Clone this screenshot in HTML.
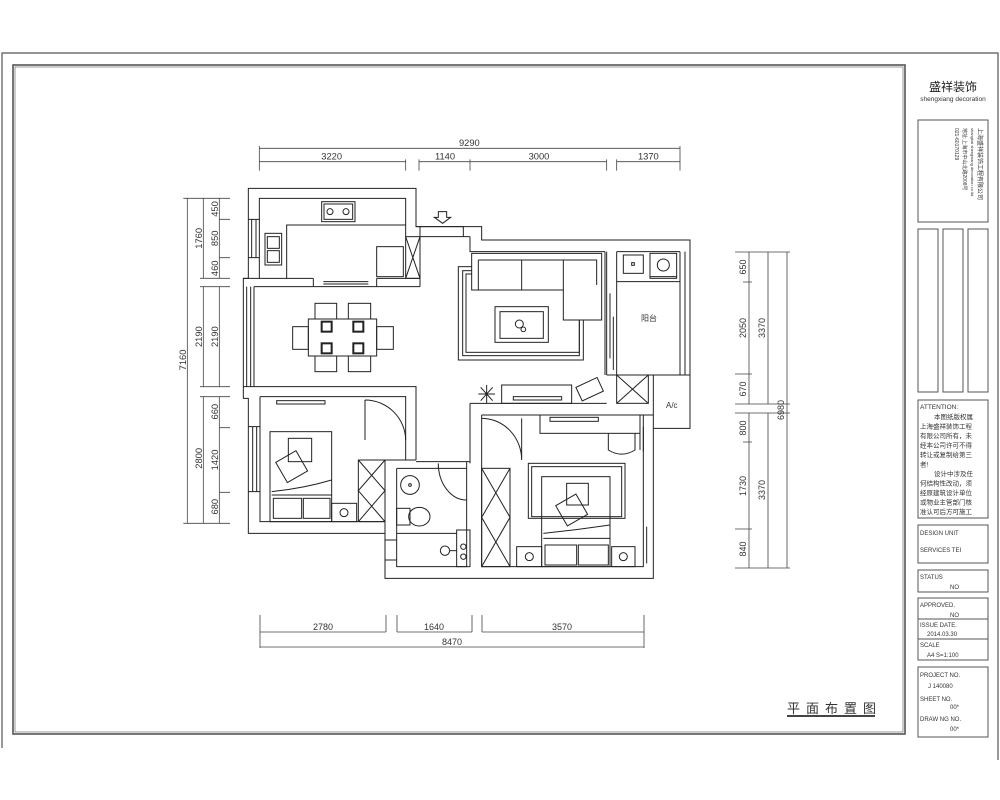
<!DOCTYPE html>
<html><head><meta charset="utf-8"><style>
html,body{margin:0;padding:0;background:#fff;}
svg{display:block;}
text{font-family:"Liberation Sans","Noto Sans CJK SC",sans-serif;fill:#333;}
</style></head><body>
<svg width="1000" height="800" viewBox="0 0 1000 800" xmlns="http://www.w3.org/2000/svg">
<g fill="none" stroke="#555">
<polyline points="2,748 2,53 998,53 998,760" stroke-width="1.2"/>
<rect x="13" y="65" width="892" height="669" stroke-width="1.6"/>
<rect x="15" y="67" width="888" height="665" stroke-width="0.6"/>
</g>
<text x="787" y="713" font-size="13" letter-spacing="6">平面布置图</text>
<rect x="787" y="715" width="88" height="2" fill="#444"/>

<g fill="none" stroke="#555" stroke-width="1">
<rect x="918" y="120" width="70" height="102"/>
<rect x="918" y="229" width="20" height="163"/>
<rect x="943" y="229" width="20" height="163"/>
<rect x="968" y="229" width="20" height="163"/>
<rect x="918" y="400" width="70" height="118"/>
<rect x="918" y="525" width="70" height="38"/>
<rect x="918" y="570" width="70" height="22"/>
<rect x="918" y="598" width="70" height="62"/>
<line x1="918" y1="619" x2="988" y2="619"/>
<line x1="918" y1="639" x2="988" y2="639"/>
<rect x="918" y="667" width="70" height="70"/>
</g>
<text x="953" y="91" font-size="12" text-anchor="middle" style="fill:#222">盛祥装饰</text>
<text x="953" y="101" font-size="6.5" text-anchor="middle">shengxiang decoration</text>
<g font-size="6" transform="translate(978,128) rotate(90)"><text x="0" y="0">上海盛祥装饰工程有限公司</text></g>
<g font-size="4" transform="translate(971,128) rotate(90)"><text x="0" y="0">shanghai shengxiang decoration co ltd</text></g>
<g font-size="5" transform="translate(963,128) rotate(90)"><text x="0" y="0">地址:上海市中山北路2008号</text></g>
<g font-size="5" transform="translate(955,128) rotate(90)"><text x="0" y="0">021-60170129</text></g>
<g font-size="6.5">
<text x="920" y="409">ATTENTION:</text>
<text x="934" y="419">本图纸版权属</text>
<text x="920" y="428.5">上海盛祥装饰工程</text>
<text x="920" y="438">有限公司所有，未</text>
<text x="920" y="447.5">经本公司许可不得</text>
<text x="920" y="457">转让或复制给第三</text>
<text x="920" y="466.5">者!</text>
<text x="934" y="476">设计中涉及任</text>
<text x="920" y="485.5">何结构性改动，须</text>
<text x="920" y="495">经原建筑设计单位</text>
<text x="920" y="504.5">或物业主管部门核</text>
<text x="920" y="514">准认可后方可施工</text>
<text x="920" y="535" font-size="6">DESIGN UNIT</text>
<text x="920" y="552" font-size="6">SERVICES TEI</text>
<text x="920" y="579" font-size="6">STATUS</text>
<text x="950" y="589" font-size="6">NO</text>
<text x="920" y="607" font-size="6">APPROVED.</text>
<text x="950" y="617" font-size="6">NO</text>
<text x="920" y="627" font-size="6">ISSUE DATE.</text>
<text x="927" y="636" font-size="6">2014.03.30</text>
<text x="920" y="647" font-size="6">SCALE</text>
<text x="927" y="657" font-size="6">A4  S=1:100</text>
<text x="920" y="677" font-size="6">PROJECT NO.</text>
<text x="928" y="688" font-size="6">J 140080</text>
<text x="920" y="701" font-size="6">SHEET NO.</text>
<text x="950" y="709" font-size="6">00*</text>
<text x="920" y="721" font-size="6">DRAW NG NO.</text>
<text x="950" y="731" font-size="6">00*</text>
</g>

<g stroke="#444" stroke-width="0.8" fill="none">
<line x1="260" y1="632" x2="386" y2="632"/><line x1="397" y1="632" x2="472" y2="632"/><line x1="482" y1="632" x2="644" y2="632"/>
<line x1="260" y1="647" x2="644" y2="647"/>
<path d="M260 615V648M386 615V632M397 615V632M472 615V632M482 615V632M644 615V648"/>
</g>
<g font-size="9" text-anchor="middle">
<text x="323" y="630">2780</text><text x="434" y="630">1640</text><text x="562" y="630">3570</text><text x="452" y="645">8470</text>
</g>
<g stroke="#444" stroke-width="0.8" fill="none">
<path d="M749 252V404M749 413V568M768 252V404M768 413V568M787 252V568"/>
<path d="M735 252H790M743 282H752M735 374H752M735 404H790M735 413H790M743 442H752M735 529H752M735 568H790"/>
</g>
<g font-size="9" text-anchor="middle">
<text transform="translate(746,267) rotate(-90)">650</text>
<text transform="translate(746,328) rotate(-90)">2050</text>
<text transform="translate(746,389) rotate(-90)">670</text>
<text transform="translate(746,428) rotate(-90)">800</text>
<text transform="translate(746,486) rotate(-90)">1730</text>
<text transform="translate(746,549) rotate(-90)">840</text>
<text transform="translate(765,328) rotate(-90)">3370</text>
<text transform="translate(765,490) rotate(-90)">3370</text>
<text transform="translate(784,410) rotate(-90)">6980</text>
</g>

<g transform="translate(180,130) scale(0.33333)" fill="none" stroke="#222" stroke-width="3">
<g stroke="#444" stroke-width="2.4">
<path d="M238 55H1500M238 95H677M717 95H870M870 95H1280M1310 95H1500"/>
<path d="M238 48V122M677 88V122M717 88V122M870 88V122M1280 88V122M1310 88V122M1500 48V122"/>
<path d="M22 205V1180M70 205V445M70 470V770M70 800V1180M118 205V445M118 470V770M118 800V1180"/>
<path d="M10 205H150M60 445H150M60 470H150M60 770H150M60 800H150M10 1180H150M118 268H150M118 383H150M118 893H150M118 1087H150"/>
</g>
<g stroke="none" font-size="28" text-anchor="middle">
<text x="868" y="48">9290</text>
<text x="455" y="88">3220</text><text x="795" y="88">1140</text><text x="1077" y="88">3000</text><text x="1405" y="88">1370</text>
<text transform="translate(18,690) rotate(-90)">7160</text>
<text transform="translate(66,325) rotate(-90)">1760</text>
<text transform="translate(66,620) rotate(-90)">2190</text>
<text transform="translate(66,985) rotate(-90)">2800</text>
<text transform="translate(114,237) rotate(-90)">450</text>
<text transform="translate(114,325) rotate(-90)">850</text>
<text transform="translate(114,415) rotate(-90)">460</text>
<text transform="translate(114,620) rotate(-90)">2190</text>
<text transform="translate(114,845) rotate(-90)">660</text>
<text transform="translate(114,990) rotate(-90)">1420</text>
<text transform="translate(114,1130) rotate(-90)">680</text>
</g>

<path d="M205 175H708V290H905V330H1530V895H1420V1345H615V1210H205V805H190V445H205Z"/>
<path d="M238 445V205H677V320M720 290V470"/>
<path d="M205 268H238M205 383H238M215 268V383M228 268V383"/>
<path d="M190 445H400M590 445H720M222 470H720M400 445V470M590 445V470"/>
<path d="M430 455H565M430 462H565"/>
<rect x="677" y="320" width="43" height="125"/><path d="M677 320L720 445M720 320L677 445"/>
<path d="M708 290H850V320H720M870 320V365H1275M850 320H870"/>
<path d="M222 470V770M200 470V770M212 470V770"/>
<path d="M1280 365V735M1275 365V735M1310 365V735M1500 365V735M1515 365V735M1310 365H1500"/>
<path d="M1290 490V685M1300 560V720"/>
<path d="M1280 735H1530M1310 455H1500"/>
<rect x="1310" y="735" width="95" height="85"/><path d="M1310 735L1405 820M1405 735L1310 820"/>
<path d="M1420 735V895"/>
<rect x="1330" y="375" width="60" height="55"/><rect x="1355" y="398" width="8" height="8"/>
<rect x="1410" y="370" width="80" height="75"/><circle cx="1450" cy="405" r="18"/><path d="M1410 440H1490"/>
<path d="M190 770H708V990M240 800H677V990M240 800V1175H615M205 890H240M205 1085H240M218 890V1085M230 890V1085"/>
<path d="M615 990H708"/>
<rect x="535" y="990" width="80" height="185"/><path d="M535 990L615 1082L535 1175M615 990L535 1082L615 1175"/>
<path d="M555 810V930M555 810A122 122 0 0 1 677 930"/>
<rect x="290" y="812" width="145" height="10"/>
<rect x="270" y="905" width="185" height="270"/>
<path d="M275 1085Q370 1075 455 1050M275 1095H455"/>
<rect x="280" y="1105" width="85" height="60"/><rect x="370" y="1105" width="80" height="60"/>
<rect x="325" y="925" width="70" height="70"/><rect x="300" y="975" width="70" height="70" transform="rotate(-30 335 1010)"/>
<rect x="455" y="1120" width="75" height="55"/><circle cx="492" cy="1148" r="12"/>
<path d="M615 990V1345M650 1015V1310H860V995M708 995H870M650 1015H860"/>
<path d="M615 1230H650M615 1290H650M650 1210H830"/>
<path d="M775 1000A85 110 0 0 0 860 1110M775 1000V1015"/>
<circle cx="690" cy="1065" r="28"/><circle cx="690" cy="1065" r="4"/>
<rect x="650" y="1135" width="40" height="50"/><ellipse cx="718" cy="1160" rx="32" ry="28"/>
<rect x="830" y="1200" width="40" height="110"/><circle cx="850" cy="1250" r="8"/><circle cx="850" cy="1280" r="8"/>
<circle cx="795" cy="1262" r="14"/><path d="M809 1262H830"/>
<path d="M870 820H1280M870 820V1000M905 855H1390V1310H905V855M1390 855H1420"/>
<path d="M1390 890V965M1380 860V960M1400 1190V1300"/>
<path d="M905 865A120 125 0 0 1 1025 990M1025 865V990"/>
<rect x="905" y="1015" width="85" height="295"/><path d="M905 1015L990 1162L905 1310M990 1015L905 1162L990 1310"/>
<rect x="1080" y="855" width="300" height="55"/><rect x="1110" y="862" width="145" height="12"/>
<path d="M1285 910V960Q1325 985 1365 960V910"/>
<rect x="1045" y="1000" width="290" height="165"/><rect x="1055" y="1010" width="270" height="150"/>
<rect x="1085" y="1040" width="205" height="270"/>
<path d="M1090 1210Q1190 1200 1290 1185M1090 1225H1290"/>
<rect x="1095" y="1245" width="95" height="60"/><rect x="1195" y="1245" width="90" height="60"/>
<rect x="1160" y="1060" width="65" height="65"/><rect x="1140" y="1105" width="70" height="70" transform="rotate(-30 1175 1140)"/>
<rect x="1010" y="1250" width="75" height="60"/><circle cx="1048" cy="1280" r="12"/>
<rect x="1295" y="1250" width="70" height="60"/><circle cx="1330" cy="1280" r="12"/>
<rect x="835" y="410" width="375" height="280"/><rect x="848" y="422" width="350" height="255"/><rect x="858" y="432" width="340" height="235"/>
<path d="M875 370H1265V570H1150V480H875Z" fill="#fff"/><path d="M895 390V480M1025 390V480M1150 390V480M895 390H1250V465"/>
<rect x="945" y="530" width="160" height="107"/><rect x="960" y="545" width="130" height="80"/>
<circle cx="1018" cy="582" r="12"/><circle cx="1030" cy="598" r="7"/>
<rect x="965" y="765" width="210" height="55"/><rect x="1000" y="800" width="145" height="10"/>
<rect x="1195" y="755" width="70" height="45" transform="rotate(-25 1230 780)"/>
<path d="M920 765V820M895 792H945M902 772L938 812M938 772L902 812"/>
<rect x="385" y="567" width="205" height="111"/>
<rect x="405" y="520" width="65" height="47"/><rect x="505" y="520" width="67" height="47"/>
<rect x="405" y="678" width="65" height="47"/><rect x="505" y="678" width="67" height="47"/>
<rect x="338" y="590" width="47" height="68"/><rect x="590" y="590" width="50" height="68"/>
<rect x="425" y="575" width="30" height="30" stroke-width="6"/><rect x="520" y="575" width="30" height="30" stroke-width="6"/>
<rect x="425" y="640" width="30" height="30" stroke-width="6"/><rect x="520" y="640" width="30" height="30" stroke-width="6"/>
<rect x="425" y="215" width="100" height="60"/><rect x="432" y="222" width="86" height="46"/>
<circle cx="450" cy="245" r="9"/><circle cx="498" cy="245" r="9"/>
<rect x="255" y="310" width="50" height="95"/><rect x="262" y="320" width="36" height="35"/><rect x="262" y="362" width="36" height="35"/>
<path d="M320 445V285H677"/>
<rect x="590" y="350" width="80" height="90"/>
<path d="M775 245H800V262H812L788 280L763 262H775Z"/>
</g>
<text x="641" y="321" font-size="8">阳台</text>
<text x="666" y="408" font-size="8">A/c</text>
</svg>
</body></html>
